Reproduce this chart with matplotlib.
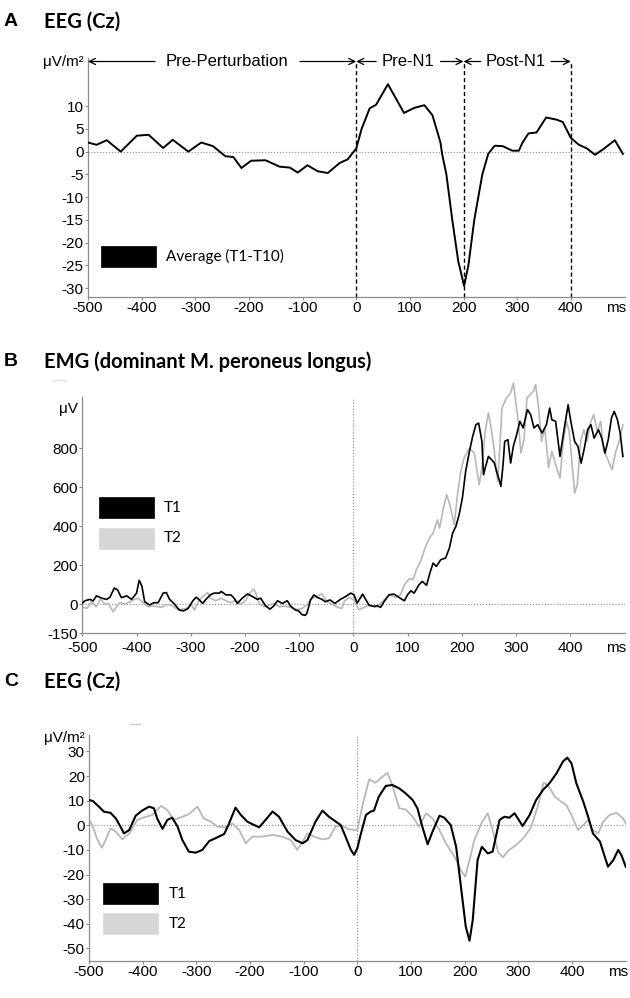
import matplotlib
matplotlib.use("Agg")
import matplotlib.pyplot as plt
from matplotlib.patches import Rectangle
from matplotlib.lines import Line2D

plt.rcParams["font.family"] = ["Liberation Sans", "DejaVu Sans"]
plt.rcParams["axes.unicode_minus"] = False

W, H = 630, 998          # output size in px (dpi 100)
AXC = "#8c8c8c"          # axis / reference line grey
GREY = "#b8b8b8"         # T2 trace
XT = [-500, -400, -300, -200, -100, 0, 100, 200, 300, 400]

# ---- A: EEG (Cz), average T1-T10 ----
tA = [-500, -484, -465, -439, -409, -387, -360, -342, -313, -289, -267, -244, -229, -214,
      -196, -169, -143, -124, -109, -91, -72, -53, -31, -16, 0, 10, 25, 37, 59, 70, 89, 108,
      127, 142, 157, 160, 168, 179, 190, 201, 209, 220, 235, 246, 258, 273, 291, 303, 310,
      321, 336, 354, 374, 385, 400, 415, 430, 445, 460, 482, 497]
vA = [2, 1.5, 2.5, 0, 3.5, 3.7, 0.8, 2.6, 0, 2, 1.2, -1, -1.2, -3.6, -2, -1.9, -3.3, -3.5,
      -4.6, -3, -4.3, -4.7, -2.5, -1.7, 0.7, 5, 9.5, 10.3, 14.8, 12.5, 8.5, 9.6, 10.2, 8, 2,
      -0.5, -5, -15, -24, -29.5, -25, -15, -5, -0.5, 1.3, 1.2, 0.2, 0.2, 2, 4, 4.2, 7.5, 7,
      6.5, 3, 1.5, 0.7, -0.7, 0.5, 2.5, -0.5]
phases = ["Pre-Perturbation", "Pre-N1", "Post-N1"]
phase_edges = [-500, 0, 200, 400]

# ---- B: EMG, dominant M. peroneus longus ----
tB1 = [-500, -495, -486, -480, -474, -464, -455, -449, -441, -435, -428, -418, -409, -400,
       -395, -390, -385, -376, -368, -360, -351, -345, -339, -330, -321, -313, -305, -296,
       -290, -284, -278, -272, -264, -257, -247, -244, -235, -226, -220, -214, -205, -195,
       -186, -177, -171, -162, -154, -147, -140, -131, -122, -116, -107, -101, -95, -89, -86,
       -79, -73, -67, -58, -52, -43, -34, -24, -14, -5, 1, 7, 17, 23, 29, 38, 44, 50, 57, 66,
       75, 84, 94, 100, 106, 112, 121, 127, 135, 141, 147, 153, 161, 170, 177, 183, 189, 195,
       201, 207, 214, 220, 226, 231, 237, 240, 243, 249, 255, 260, 264, 268, 272, 276, 279,
       285, 290, 295, 301, 307, 313, 321, 327, 333, 340, 348, 356, 362, 366, 373, 381, 388,
       396, 401, 408, 414, 420, 426, 432, 438, 444, 452, 458, 464, 470, 476, 481, 487, 492, 497]
vB1 = [5, 17, 24, 16, 42, 30, 24, 35, 82, 73, 33, 42, 24, 56, 122, 91, 12, -5, 7, 7, 56, 59,
       24, 0, -31, -35, -23, 17, 35, 21, 3, 24, 47, 56, 56, 65, 47, 47, 30, 3, 30, 52, 38, 24,
       30, -9, -26, -10, 17, 3, 17, -10, -31, -35, -54, -58, -49, 21, 47, 35, 24, 12, 21, 3,
       24, 39, 56, 48, 5, 51, 22, -7, -12, -9, -17, 14, 48, 51, 34, 17, 48, 68, 56, 99, 116,
       96, 159, 210, 193, 227, 236, 287, 364, 398, 458, 544, 680, 783, 860, 920, 928, 834,
       663, 697, 757, 740, 723, 680, 646, 603, 714, 834, 843, 723, 809, 868, 937, 903, 997,
       971, 903, 920, 877, 920, 1005, 945, 937, 757, 885, 1022, 937, 834, 809, 723, 800, 894,
       920, 851, 894, 851, 774, 843, 954, 988, 945, 877, 757]
tB2 = [-500, -492, -483, -474, -467, -458, -452, -443, -437, -431, -421, -412, -403, -397,
       -388, -379, -370, -360, -354, -345, -336, -327, -318, -309, -299, -293, -284, -276,
       -269, -263, -254, -244, -235, -226, -217, -208, -199, -191, -184, -180, -174, -165,
       -156, -147, -137, -128, -116, -104, -95, -86, -79, -70, -58, -49, -40, -31, -21, -17,
       -8, 1, 10, 20, 29, 41, 54, 66, 78, 87, 94, 103, 110, 116, 124, 132, 140, 147, 155, 159,
       166, 172, 178, 186, 192, 198, 204, 214, 223, 232, 237, 243, 249, 254, 260, 266, 270,
       274, 282, 290, 295, 299, 304, 309, 315, 320, 326, 332, 336, 341, 347, 353, 360, 366,
       373, 381, 387, 393, 398, 403, 408, 413, 419, 425, 431, 437, 443, 450, 456, 462, 468,
       477, 484, 492, 497]
vB2 = [-14, -23, 12, -14, 24, 0, 3, -40, -14, 7, 0, 12, 24, 30, 7, -14, -10, -14, -17, -2, -5,
       -23, -28, -23, -5, -31, 24, 42, 59, 30, 17, 30, 17, 7, 21, 0, 17, 56, 77, 56, 3, -14,
       -5, 3, -14, -10, -17, -28, -23, -5, 24, 38, 52, 12, 0, -14, -23, 14, 34, 22, -29, -17,
       -3, -17, 14, 48, 34, 48, 99, 130, 125, 176, 219, 287, 338, 364, 432, 390, 492, 561,
       509, 407, 561, 680, 749, 800, 774, 612, 697, 885, 980, 903, 783, 629, 800, 1005, 1056,
       1082, 1133, 1048, 937, 774, 851, 1056, 1074, 1091, 1125, 1022, 834, 903, 700, 783,
       714, 646, 834, 937, 885, 731, 569, 612, 834, 894, 834, 928, 971, 885, 937, 783, 749,
       689, 783, 851, 920]

# ---- C: EEG (Cz), T1 vs T2 ----
tC1 = [-500, -493, -483, -472, -460, -450, -438, -435, -425, -413, -401, -388, -379, -373,
       -363, -354, -345, -335, -326, -314, -301, -289, -276, -261, -248, -239, -227, -217,
       -205, -196, -183, -171, -158, -146, -130, -115, -102, -93, -78, -65, -53, -40, -31,
       -22, -12, -6, 0, 6, 16, 25, 31, 40, 53, 65, 78, 90, 103, 112, 121, 131, 140, 153, 162,
       174, 184, 193, 202, 209, 215, 224, 232, 243, 252, 265, 274, 283, 293, 308, 321, 333,
       346, 358, 371, 383, 391, 399, 408, 421, 430, 439, 452, 467, 477, 486, 492, 500]
vC1 = [10.3, 9.9, 7.9, 5.5, 5.1, 2.8, -1.9, -3.3, -1.9, 3.9, 6, 7.6, 6.9, 2.8, -1.4, 2.2,
       3.1, -0.5, -6, -10.7, -11.1, -10, -6.4, -4.9, -3.5, 0.8, 7.2, 4.2, 1.5, 0.5, -0.8, 2.2,
       5.6, 3.5, -2.6, -6, -7.3, -6, 1.5, 6, 3.5, 1.5, 0.1, -4.6, -10, -12, -9.3, -3.9, 4.2,
       5.6, 6, 11.7, 16, 16.4, 15, 13, 10.3, 6.9, -0.5, -7.7, -2.6, 3.9, 3.1, 0.1, -8.7,
       -24.9, -41.2, -46.9, -38.5, -14.1, -8.7, -11.4, -10.7, 2.2, 3.5, 3.1, 4.9, -0.3, 4.2,
       10.3, 14.4, 17.1, 21.1, 25.9, 27.5, 25.2, 17.1, 9.6, 3.5, -3.3, -6.6, -16.8, -14.1,
       -10, -12.1, -16.8]
tC2 = [-500, -494, -484, -476, -469, -460, -450, -438, -425, -410, -394, -382, -366, -354,
       -342, -326, -314, -298, -286, -273, -261, -245, -233, -220, -208, -196, -177, -158,
       -140, -124, -112, -102, -93, -81, -65, -53, -40, -28, -16, -6, 0, 9, 22, 34, 47, 56, 65,
       78, 90, 103, 115, 128, 140, 153, 165, 181, 193, 201, 209, 218, 231, 243, 252, 262, 271,
       283, 296, 312, 324, 336, 347, 355, 368, 380, 389, 399, 411, 421, 430, 439, 449, 458,
       470, 483, 495, 500]
vC2 = [2.2, 0.1, -6, -9.1, -6, -1.2, -2.6, -5.7, -3.3, 2.2, 3.5, 4.2, 7.9, 6.2, 2.2, 3.5,
       4.5, 7.6, 2.8, 1.5, -0.5, -0.9, 0.8, -1.9, -7.3, -4.6, -4.6, -3.9, -4.6, -6, -10, -6.6,
       -3.3, -4.6, -5.7, -5.3, -0.3, -0.3, -1.6, -1.9, -1.9, 7.6, 18.7, 17.3, 19.8, 21.4, 16.4,
       6.9, 6.5, 3.5, -0.5, 4.9, 2.8, -1.9, -7.3, -12.7, -18.2, -20.9, -14.1, -6, 0.8, 4.9,
       -1.9, -10.7, -13, -10, -8, -4.6, -0.5, 7.6, 17.3, 16.4, 11.7, 9.6, 8.3, 4.2, -1.9, 0.1,
       2.2, -1.9, -3.3, 1.5, 4.2, 5.1, 2.8, 0.8]


def rect(l, t, r, b):
    """pixel edges -> figure-fraction [left, bottom, width, height]"""
    return [l / W, 1 - b / H, (r - l) / W, (b - t) / H]


def style(ax, ylim, yticks, unit, unit_y, spine_top, xpad=1):
    ax.set_xlim(-500, 500)
    ax.set_ylim(*ylim)
    for s in ("top", "right"):
        ax.spines[s].set_visible(False)
    for s in ("left", "bottom"):
        ax.spines[s].set_color(AXC)
        ax.spines[s].set_linewidth(0.9)
    ax.spines["left"].set_bounds(ylim[0], spine_top)
    ax.set_xticks(XT)
    ax.set_yticks(yticks)
    ax.tick_params(length=2, width=0.8, color=AXC, labelsize=11, pad=1)
    ax.tick_params(axis="x", pad=xpad)
    ax.axhline(0, color=AXC, ls=":", lw=0.8, zorder=1)
    ax.annotate(unit, xy=(-500, unit_y), xytext=(-3, 0), textcoords="offset points",
                ha="right", va="center", fontsize=11, annotation_clip=False)
    ax.annotate("ms", xy=(485, ylim[0]), xytext=(0, -2 - xpad), textcoords="offset points",
                ha="center", va="top", fontsize=11, annotation_clip=False)


def legend(fig, items, x, y0, dy):
    for i, (lab, col) in enumerate(items):
        y = y0 + i * dy
        fig.add_artist(Rectangle((x / W, 1 - (y + 21) / H), 55 / W, 21 / H,
                                 transform=fig.transFigure, facecolor=col,
                                 edgecolor=col, lw=0.5))
        fig.text((x + 65) / W, 1 - (y + 10.5) / H, lab, family="Lato", fontsize=11,
                 va="center", ha="left")


def heading(fig, y, letter, title):
    fig.text(4 / W, 1 - y / H, letter, fontsize=14, weight="bold", va="center")
    fig.text(44 / W, 1 - y / H, title, family="Lato", fontsize=14.5, weight="bold",
             va="center")


fig = plt.figure(figsize=(W / 100, H / 100), dpi=100)

# ---------------- panel A ----------------
axA = fig.add_axes(rect(88, 58.3, 624.5, 297.3))
style(axA, (-32, 20.5), list(range(-30, 11, 5)), "μV/m²", 19.7, 20.5)
yarr = 19.8
axA.vlines(phase_edges[1:], -32, yarr, colors="black", linestyles=(0, (3, 2)), lw=1)
axA.plot(tA, vA, color="black", lw=1.4, zorder=3)
arrow_spans = [(-375, -105), (37, 157), (232, 363)]
for name, (lo, hi), a, b in zip(phases, arrow_spans, phase_edges[:-1], phase_edges[1:]):
    axA.text((lo + hi) / 2, yarr, name, ha="center", va="center", fontsize=12)
    for start, end in ((lo, a), (hi, b)):
        axA.annotate("", xy=(end, yarr), xytext=(start, yarr), annotation_clip=False,
                     arrowprops=dict(arrowstyle="->", lw=0.9, color="black",
                                     shrinkA=0, shrinkB=0, mutation_scale=11))
heading(fig, 22, "A", "EEG (Cz)")
legend(fig, [("Average (T1-T10)", "black")], 101, 246, 0)

# ---------------- panel B ----------------
axB = fig.add_axes(rect(82.3, 379.8, 624.5, 633.3))
style(axB, (-150, 1150), [-150, 0, 200, 400, 600, 800], "μV", 1000, 1061, xpad=3.5)
axB.vlines(0, -150, 1050, colors=AXC, linestyles=":", lw=0.8, zorder=1)
axB.plot(tB2, vB2, color=GREY, lw=1.2, zorder=2)
axB.plot(tB1, vB1, color="black", lw=1.2, zorder=3)
fig.add_artist(Line2D([52 / W, 66 / W], [1 - 380 / H] * 2, color="#e2e2e2", lw=1,
                      transform=fig.transFigure))
heading(fig, 362, "B", "EMG (dominant M. peroneus longus)")
legend(fig, [("T1", "black"), ("T2", "#d6d6d6")], 98.5, 497.3, 30.4)

# ---------------- panel C ----------------
axC = fig.add_axes(rect(89, 735, 625.7, 960.7))
style(axC, (-55, 36.7), list(range(-50, 31, 10)), "μV/m²", 35.5, 36.7)
axC.vlines(0, -55, 36.7, colors=AXC, linestyles=":", lw=0.8, zorder=1)
axC.plot(tC2, vC2, color=GREY, lw=1.3, zorder=2)
axC.plot(tC1, vC1, color="black", lw=1.5, zorder=3)
fig.add_artist(Line2D([130 / W, 140 / W], [1 - 724 / H] * 2, color="#c8c8c8", lw=1,
                      transform=fig.transFigure))
heading(fig, 682, "C", "EEG (Cz)")
legend(fig, [("T1", "black"), ("T2", "#d6d6d6")], 103.3, 883.3, 30)

fig.savefig("out.png", dpi=100)
